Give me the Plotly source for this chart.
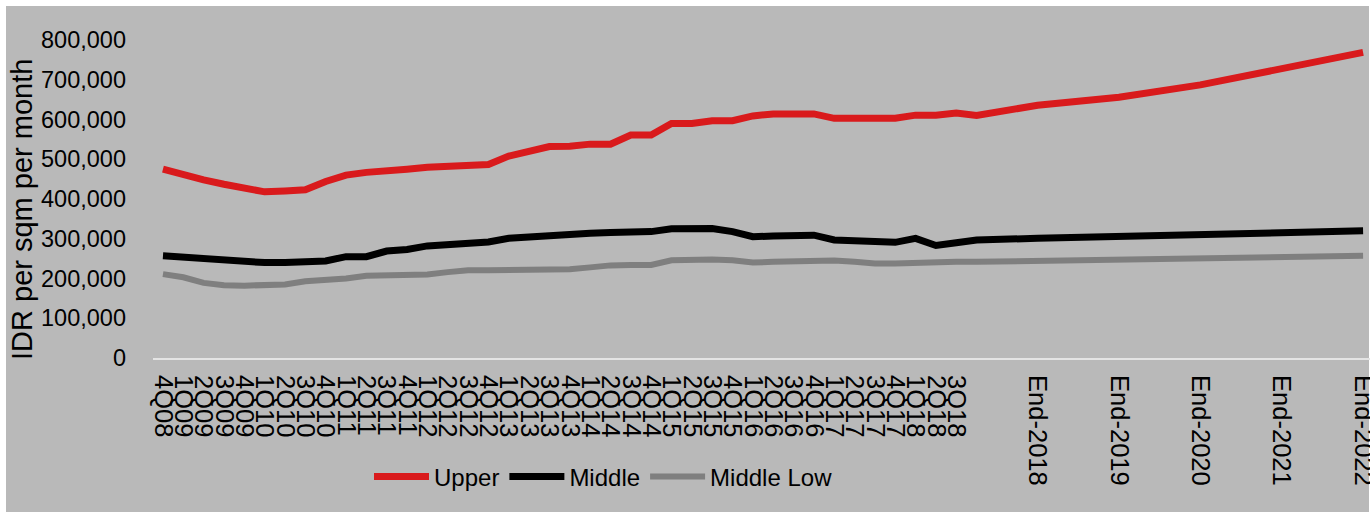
import plotly.graph_objects as go

# Category labels: quarterly history, then year-end forecasts spaced on a quarterly grid
quarters = [
    "4Q08", "1Q09", "2Q09", "3Q09", "4Q09", "1Q10", "2Q10", "3Q10", "4Q10",
    "1Q11", "2Q11", "3Q11", "4Q11", "1Q12", "2Q12", "3Q12", "4Q12",
    "1Q13", "2Q13", "3Q13", "4Q13", "1Q14", "2Q14", "3Q14", "4Q14",
    "1Q15", "2Q15", "3Q15", "4Q15", "1Q16", "2Q16", "3Q16", "4Q16",
    "1Q17", "2Q17", "3Q17", "4Q17", "1Q18", "2Q18", "3Q18",
]
forecast_slots = ["", "", "", "End-2018", "", "", "", "End-2019", "", "", "",
                  "End-2020", "", "", "", "End-2021", "", "", "", "End-2022"]
categories = quarters + forecast_slots

# Rents in IDR per sqm per month (None = no observation in that slot)
upper = [
    475000, 460000, 448000, 437000, 428000, 418000, 420000, 423000, 444000,
    460000, 467000, 473000, 475000, 480000, 483000, 486000, 487000,
    508000, 521000, 532000, 533000, 538000, 538000, 561000, 561000,
    590000, 590000, 597000, 597000, 609000, 614000, 614000, 614000,
    603000, 603000, 603000, 603000, 611000, 611000, 616000,
    610000, None, None, 636000, None, None, None, 656000, None, None, None,
    687000, None, None, None, 730000, None, None, None, 769000,
]
middle = [
    257000, 253000, 249000, 244000, 241000, 240000, 240000, 240000, 244000,
    255000, 255000, 269000, 273000, 282000, 286000, 287000, 292000,
    301000, 305000, 309000, 311000, 314000, 316000, 318000, 318000,
    325000, 326000, 326000, 318000, 305000, 307000, 307000, 309000,
    297000, 295000, 291000, 291000, 301000, 283000, 290000,
    297000, None, None, 301000, None, None, None, 306000, None, None, None,
    311000, None, None, None, 316000, None, None, None, 320000,
]
middle_low = [
    211000, 203000, 189000, 183000, 182000, 182000, 185000, 193000, 196000,
    200000, 207000, 207000, 209000, 210000, 216000, 221000, 221000,
    222000, 223000, 223000, 223000, 228000, 233000, 234000, 234000,
    246000, 248000, 248000, 246000, 240000, 242000, 244000, 246000,
    245000, 242000, 238000, 238000, 240000, 241000, 242000,
    242000, None, None, 244000, None, None, None, 247000, None, None, None,
    250000, None, None, None, 253000, None, None, None, 257000,
]

y_ticks = [0, 100000, 200000, 300000, 400000, 500000, 600000, 700000, 800000]
y_tick_text = ["0", "100,000", "200,000", "300,000", "400,000",
               "500,000", "600,000", "700,000", "800,000"]

series = [
    ("Upper", upper, "#d91a1c", 7),
    ("Middle", middle, "#000000", 7),
    ("Middle Low", middle_low, "#7f7f7f", 6),
]

W, H = 1370, 512
ML, MR, MT, MB = 153, 0, 40, 154
PW, PH = W - ML - MR, H - MT - MB
FONT = "Liberation Sans, Arial, sans-serif"
BG = "#b9b9b9"


def px_to_paper_x(px):
    return (px - ML) / PW


def px_to_paper_y(py):
    return (H - MB - py) / PH


x_pos = list(range(len(categories)))
tick_vals = [i for i, c in enumerate(categories) if c]
tick_text = [c for c in categories if c]

fig = go.Figure()
for name, values, color, width in series:
    fig.add_trace(go.Scatter(
        x=x_pos, y=values, name=name, mode="lines", connectgaps=True,
        line=dict(color=color, width=width, shape="linear"),
    ))

fig.update_layout(
    width=W, height=H,
    template="none",
    margin=dict(l=ML, r=MR, t=MT, b=MB, autoexpand=False),
    paper_bgcolor="#ffffff",
    plot_bgcolor="rgba(0,0,0,0)",
    font=dict(family=FONT, color="#000000", size=24),
    showlegend=True,
    legend=dict(
        orientation="h", x=px_to_paper_x(369), xanchor="left",
        y=px_to_paper_y(477), yanchor="middle",
        font=dict(size=24, family=FONT), itemwidth=55,
        bgcolor="rgba(0,0,0,0)", traceorder="normal",
    ),
    xaxis=dict(
        range=[-0.49, 59.34], tickmode="array", tickvals=tick_vals,
        ticktext=tick_text, tickangle=90, showgrid=False, zeroline=False,
        showline=True, linecolor="#e4e4e4", linewidth=2, ticks="",
        tickfont=dict(size=25.5, family=FONT), automargin=False,
        ticklabelstandoff=10, ticklabeloverflow="allow",
    ),
    yaxis=dict(
        range=[0, 800000], tickmode="array", tickvals=y_ticks,
        ticktext=y_tick_text, showgrid=False, zeroline=False, showline=False,
        ticks="", tickfont=dict(size=23.5, family=FONT), automargin=False,
        ticklabelstandoff=26,
    ),
    shapes=[dict(
        type="rect", xref="paper", yref="paper", layer="below",
        x0=px_to_paper_x(6), x1=px_to_paper_x(1369),
        y0=px_to_paper_y(512), y1=px_to_paper_y(6),
        fillcolor=BG, line=dict(width=0),
    )],
    annotations=[dict(
        text="IDR per sqm per month", textangle=-90, showarrow=False,
        xref="paper", yref="paper", x=px_to_paper_x(22), y=px_to_paper_y(210),
        xanchor="center", yanchor="middle", font=dict(size=29, family=FONT),
    )],
)

fig.write_html("out.html")
